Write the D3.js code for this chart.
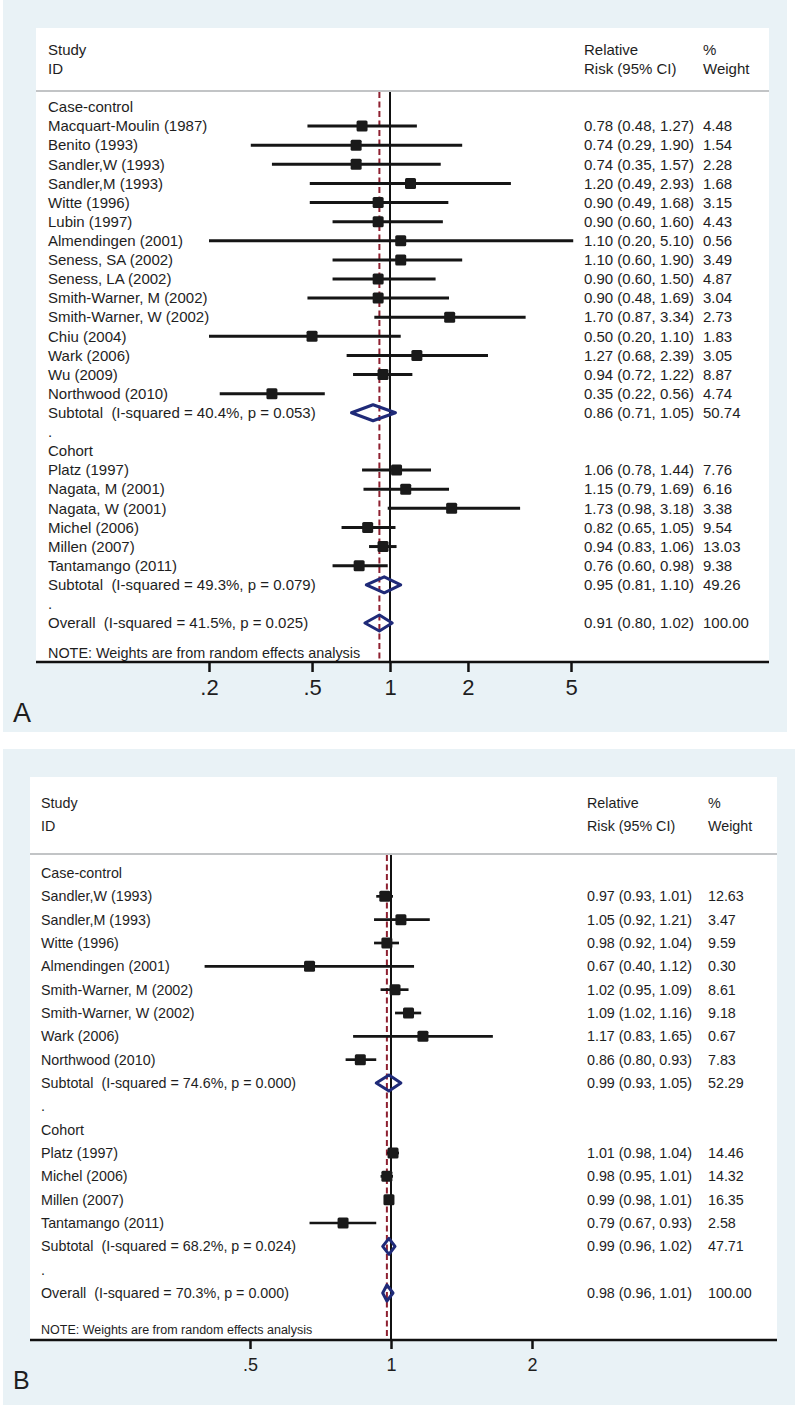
<!DOCTYPE html>
<html><head><meta charset="utf-8">
<script src="https://cdn.jsdelivr.net/npm/d3@7"></script>
<style>
body{margin:0;background:#fff}
svg{display:block}
text{font-family:"Liberation Sans",Arial,sans-serif;fill:#1e1e1e;white-space:pre}
</style>
</head><body>
<svg id="chart" width="800" height="1408"></svg>
<script>
// ---------- Panel A data ----------
const ccStudiesA = ["Macquart-Moulin (1987)","Benito (1993)","Sandler,W (1993)","Sandler,M (1993)","Witte (1996)","Lubin (1997)","Almendingen (2001)","Seness, SA (2002)","Seness, LA (2002)","Smith-Warner, M (2002)","Smith-Warner, W (2002)","Chiu (2004)","Wark (2006)","Wu (2009)","Northwood (2010)"];
const ccRRA     = [0.78,0.74,0.74,1.20,0.90,0.90,1.10,1.10,0.90,0.90,1.70,0.50,1.27,0.94,0.35];
const ccLowA    = [0.48,0.29,0.35,0.49,0.49,0.60,0.20,0.60,0.60,0.48,0.87,0.20,0.68,0.72,0.22];
const ccHighA   = [1.27,1.90,1.57,2.93,1.68,1.60,5.10,1.90,1.50,1.69,3.34,1.10,2.39,1.22,0.56];
const ccWeightA = [4.48,1.54,2.28,1.68,3.15,4.43,0.56,3.49,4.87,3.04,2.73,1.83,3.05,8.87,4.74];
const coStudiesA = ["Platz (1997)","Nagata, M (2001)","Nagata, W (2001)","Michel (2006)","Millen (2007)","Tantamango (2011)"];
const coRRA     = [1.06,1.15,1.73,0.82,0.94,0.76];
const coLowA    = [0.78,0.79,0.98,0.65,0.83,0.60];
const coHighA   = [1.44,1.69,3.18,1.05,1.06,0.98];
const coWeightA = [7.76,6.16,3.38,9.54,13.03,9.38];
const subLabelsA = ["Subtotal  (I-squared = 40.4%, p = 0.053)","Subtotal  (I-squared = 49.3%, p = 0.079)"];
const subRRA     = [0.86,0.95];
const subLowA    = [0.71,0.81];
const subHighA   = [1.05,1.10];
const subWeightA = [50.74,49.26];
const overallLabelA = "Overall  (I-squared = 41.5%, p = 0.025)";
const overallA = [0.91,0.80,1.02,100.00];
const tickValuesA = [0.2,0.5,1,2,5];
const tickLabelsA = [".2",".5","1","2","5"];

// ---------- Panel B data ----------
const ccStudiesB = ["Sandler,W (1993)","Sandler,M (1993)","Witte (1996)","Almendingen (2001)","Smith-Warner, M (2002)","Smith-Warner, W (2002)","Wark (2006)","Northwood (2010)"];
const ccRRB     = [0.97,1.05,0.98,0.67,1.02,1.09,1.17,0.86];
const ccLowB    = [0.93,0.92,0.92,0.40,0.95,1.02,0.83,0.80];
const ccHighB   = [1.01,1.21,1.04,1.12,1.09,1.16,1.65,0.93];
const ccWeightB = [12.63,3.47,9.59,0.30,8.61,9.18,0.67,7.83];
const coStudiesB = ["Platz (1997)","Michel (2006)","Millen (2007)","Tantamango (2011)"];
const coRRB     = [1.01,0.98,0.99,0.79];
const coLowB    = [0.98,0.95,0.98,0.67];
const coHighB   = [1.04,1.01,1.01,0.93];
const coWeightB = [14.46,14.32,16.35,2.58];
const subLabelsB = ["Subtotal  (I-squared = 74.6%, p = 0.000)","Subtotal  (I-squared = 68.2%, p = 0.024)"];
const subRRB     = [0.99,0.99];
const subLowB    = [0.93,0.96];
const subHighB   = [1.05,1.02];
const subWeightB = [52.29,47.71];
const overallLabelB = "Overall  (I-squared = 70.3%, p = 0.000)";
const overallB = [0.98,0.96,1.01,100.00];
const tickValuesB = [0.5,1,2];
const tickLabelsB = [".5","1","2"];

const groupNames = ["Case-control","Cohort"];
const noteText = "NOTE: Weights are from random effects analysis";

const svg = d3.select("#chart");
const BG = "#e9f2f6", NAVY = "#1f2a78", RED = "#8e2030";

function buildRows(cc, co, sub, overallLabel, overall) {
  const rows = [];
  rows.push({type:"group", label:groupNames[0]});
  cc.names.forEach((n,i)=>rows.push({type:"study", label:n, rr:cc.rr[i], lo:cc.lo[i], hi:cc.hi[i], w:cc.w[i]}));
  rows.push({type:"sub", label:sub.labels[0], rr:sub.rr[0], lo:sub.lo[0], hi:sub.hi[0], w:sub.w[0]});
  rows.push({type:"dot", label:"."});
  rows.push({type:"group", label:groupNames[1]});
  co.names.forEach((n,i)=>rows.push({type:"study", label:n, rr:co.rr[i], lo:co.lo[i], hi:co.hi[i], w:co.w[i]}));
  rows.push({type:"sub", label:sub.labels[1], rr:sub.rr[1], lo:sub.lo[1], hi:sub.hi[1], w:sub.w[1]});
  rows.push({type:"dot", label:"."});
  rows.push({type:"overall", label:overallLabel, rr:overall[0], lo:overall[1], hi:overall[2], w:overall[3]});
  return rows;
}

function drawPanel(c, rows, tickVals, tickLabs, overallRR) {
  const g = svg.append("g");
  g.append("rect").attr("x",c.bg[0]).attr("y",c.bg[1]).attr("width",c.bg[2]).attr("height",c.bg[3]).attr("fill",BG);
  g.append("rect").attr("x",c.plot[0]).attr("y",c.plot[1]).attr("width",c.plot[2]-c.plot[0]).attr("height",c.plot[3]-c.plot[1]).attr("fill","#fff");

  const x = d3.scaleLog().domain([tickVals[0], tickVals[tickVals.length-1]]).range(c.xr);
  const y = d3.scaleLinear().domain([0, rows.length-1]).range(c.yr);
  const fs = c.fs;

  // header
  const hdr = [[c.labelX, c.hy[0], "Study"],[c.labelX, c.hy[1], "ID"],[c.ciX, c.hy[0], "Relative"],[c.ciX, c.hy[1], "Risk (95% CI)"],[c.wX, c.hy[0], "%"],[c.wX, c.hy[1], "Weight"]];
  g.selectAll("text.h").data(hdr).join("text").attr("class","h")
    .attr("x",d=>d[0]).attr("y",d=>d[1]).attr("dy","0.35em").style("font-size",fs+"px").text(d=>d[2]);
  g.append("line").attr("x1",c.plot[0]).attr("x2",c.plot[2]).attr("y1",c.sepY).attr("y2",c.sepY)
    .attr("stroke","#c2c4c6").attr("stroke-width",2);

  // reference lines
  g.append("line").attr("x1",x(1)).attr("x2",x(1)).attr("y1",c.sepY+1).attr("y2",c.plot[3])
    .attr("stroke","#111").attr("stroke-width",2);
  g.append("line").attr("x1",x(overallRR)).attr("x2",x(overallRR)).attr("y1",c.sepY+1).attr("y2",c.plot[3])
    .attr("stroke",RED).attr("stroke-width",2).attr("stroke-dasharray","6,3.5");

  // labels
  g.selectAll("text.lab").data(rows).join("text").attr("class","lab")
    .attr("x",c.labelX).attr("y",(d,i)=>y(i)).attr("dy","0.35em").style("font-size",fs+"px").text(d=>d.label);
  const est = rows.map((d,i)=>({d,i})).filter(o=>o.d.rr!==undefined);
  g.selectAll("text.ci").data(est).join("text").attr("class","ci")
    .attr("x",c.ciX).attr("y",o=>y(o.i)).attr("dy","0.35em").style("font-size",fs+"px")
    .text(o=>`${o.d.rr.toFixed(2)} (${o.d.lo.toFixed(2)}, ${o.d.hi.toFixed(2)})`);
  g.selectAll("text.wt").data(est).join("text").attr("class","wt")
    .attr("x",c.wX).attr("y",o=>y(o.i)).attr("dy","0.35em").style("font-size",fs+"px")
    .text(o=>o.d.w.toFixed(2));

  // studies
  const st = est.filter(o=>o.d.type==="study");
  g.selectAll("line.cil").data(st).join("line").attr("class","cil")
    .attr("x1",o=>x(o.d.lo)).attr("x2",o=>x(o.d.hi)).attr("y1",o=>y(o.i)).attr("y2",o=>y(o.i))
    .attr("stroke","#151515").attr("stroke-width",c.lw);
  const s = c.box;
  g.selectAll("rect.box").data(st).join("rect").attr("class","box")
    .attr("x",o=>x(o.d.rr)-s/2).attr("y",o=>y(o.i)-s/2).attr("width",s).attr("height",s).attr("rx",1.5)
    .attr("fill","#1a1a1a");

  // diamonds
  const dm = est.filter(o=>o.d.type!=="study");
  g.selectAll("path.dia").data(dm).join("path").attr("class","dia")
    .attr("d",o=>{const yy=y(o.i),h=c.dh;return `M${x(o.d.lo)},${yy}L${x(o.d.rr)},${yy-h}L${x(o.d.hi)},${yy}L${x(o.d.rr)},${yy+h}Z`;})
    .attr("fill","none").attr("stroke",NAVY).attr("stroke-width",c.dsw).attr("stroke-linejoin","round");

  // note
  g.append("text").attr("x",c.labelX).attr("y",c.noteY).attr("dy","0.35em").style("font-size",c.noteFs+"px").text(noteText);

  // axis
  const axis = d3.axisBottom(x).tickValues(tickVals).tickFormat((d,i)=>tickLabs[i]).tickSize(c.tick).tickSizeOuter(0);
  const ag = g.append("g").attr("transform",`translate(0,${c.plot[3]})`).call(axis);
  ag.select(".domain").remove();
  ag.selectAll(".tick line").attr("stroke","#111").attr("stroke-width",2.5);
  ag.selectAll(".tick text").attr("dy","0").attr("y",c.tickLabY).style("font-size",c.tickFs+"px")
    .style("font-family","'Liberation Sans',Arial,sans-serif").attr("fill","#1e1e1e");
  g.append("line").attr("x1",c.plot[0]).attr("x2",c.plot[2]).attr("y1",c.plot[3]).attr("y2",c.plot[3])
    .attr("stroke","#111").attr("stroke-width",2.5);

  g.append("text").attr("x",c.letterX).attr("y",c.letterY).style("font-size",c.letterFs+"px").text(c.letter);
}

const rowsA = buildRows(
  {names:ccStudiesA, rr:ccRRA, lo:ccLowA, hi:ccHighA, w:ccWeightA},
  {names:coStudiesA, rr:coRRA, lo:coLowA, hi:coHighA, w:coWeightA},
  {labels:subLabelsA, rr:subRRA, lo:subLowA, hi:subHighA, w:subWeightA},
  overallLabelA, overallA);
const rowsB = buildRows(
  {names:ccStudiesB, rr:ccRRB, lo:ccLowB, hi:ccHighB, w:ccWeightB},
  {names:coStudiesB, rr:coRRB, lo:coLowB, hi:coHighB, w:coWeightB},
  {labels:subLabelsB, rr:subRRB, lo:subLowB, hi:subHighB, w:subWeightB},
  overallLabelB, overallB);

drawPanel({bg:[3,0,784,732], plot:[36,28,769,662], xr:[209,571], yr:[107,623], fs:15,
  hy:[50,69], sepY:91, labelX:48, ciX:584, wX:703, lw:3, box:11, dh:8, dsw:3,
  noteY:653, noteFs:14.4, tick:10, tickLabY:33, tickFs:22, letter:"A", letterX:13, letterY:722, letterFs:27},
  rowsA, tickValuesA, tickLabelsA, overallA[0]);

drawPanel({bg:[3,749,792,656], plot:[30,777,777,1340], xr:[250,532], yr:[873,1293], fs:14.3,
  hy:[803,826], sepY:854, labelX:41, ciX:587, wX:708, lw:2.7, box:11, dh:8, dsw:3,
  noteY:1330, noteFs:12.5, tick:9, tickLabY:31, tickFs:18, letter:"B", letterX:13, letterY:1389, letterFs:25},
  rowsB, tickValuesB, tickLabelsB, overallB[0]);
</script>
</body></html>
